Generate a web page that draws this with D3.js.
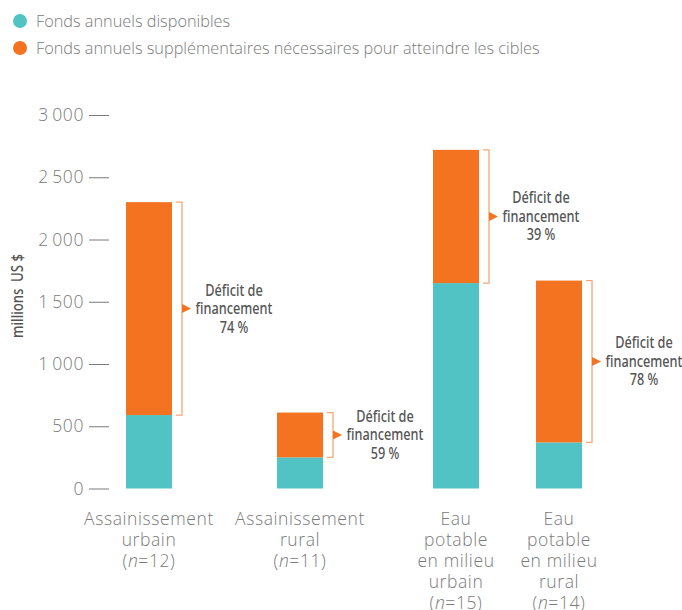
<!DOCTYPE html>
<html>
<head>
<meta charset="utf-8">
<script src="https://cdn.jsdelivr.net/npm/d3@7"></script>
<style>
  body { margin: 0; background: #fff; }
  svg { display: block; }
</style>
</head>
<body>
<svg id="chart" width="682" height="610"></svg>
<script>
// Data: annual funding per sector (millions US $)
const categories = ["Assainissement urbain", "Assainissement rural", "Eau potable en milieu urbain", "Eau potable en milieu rural"];
const labelLines = [
  ["Assainissement", "urbain"],
  ["Assainissement", "rural"],
  ["Eau", "potable", "en milieu", "urbain"],
  ["Eau", "potable", "en milieu", "rural"]
];
const sampleSizes = [12, 11, 15, 14];
const available = [590, 250, 1650, 370];
const additional = [1710, 360, 1070, 1300];
const gapPct = [74, 59, 39, 78];
const yTicks = [0, 500, 1000, 1500, 2000, 2500, 3000];
const seriesNames = ["Fonds annuels disponibles", "Fonds annuels supplémentaires nécessaires pour atteindre les cibles"];

const colors = { available: "#51c3c5", additional: "#f37321", bracket: "#f5a878", text: "#555", axis: "#7a7a7a" };
const lightFont = "'Open Sans', 'Noto Sans', sans-serif";
const condFont = "'Noto Sans', 'Open Sans', sans-serif";

const svg = d3.select("#chart");

// Scales
const y = d3.scaleLinear().domain([0, 3000]).range([488.5, 115]);
const x = d3.scaleOrdinal().domain(categories).range([149, 300, 456, 559]);
const barW = 46;

// Legend
const legend = svg.append("g");
seriesNames.forEach((name, i) => {
  const g = legend.append("g").attr("transform", `translate(0,${21 + i * 27})`);
  g.append("circle").attr("cx", 20).attr("cy", 0).attr("r", 7)
    .attr("fill", i === 0 ? colors.available : colors.additional);
  g.append("text").attr("x", 36).attr("y", 0).attr("dy", "0.35em")
    .attr("font-family", lightFont).attr("font-weight", 300).attr("font-size", 16.3)
    .attr("fill", colors.axis).text(name);
});

// Y axis
const yAxis = d3.axisLeft(y).tickValues(yTicks).tickSize(0).tickPadding(0)
  .tickFormat(d => d3.format(",")(d).replace(/,/g, "\u2009"));
const ag = svg.append("g").attr("transform", "translate(86,0)").call(yAxis);
ag.select(".domain").remove();
ag.selectAll(".tick text").attr("x", -2).attr("font-family", lightFont).attr("font-weight", 300)
  .attr("font-size", 17.5).attr("letter-spacing", 0.6).attr("fill", colors.axis);
ag.selectAll(".tick").append("line").attr("x1", 3).attr("x2", 23).attr("y1", 0).attr("y2", 0)
  .attr("stroke", colors.axis).attr("stroke-width", 1);

svg.append("text").attr("transform", `translate(23,296) rotate(-90) scale(0.85,1)`)
  .attr("text-anchor", "middle").attr("font-family", condFont).attr("font-size", 15.5)
  .attr("font-weight", 500).attr("fill", colors.text).text("millions\u2002US $");

// Bars
const bars = svg.append("g");
categories.forEach((c, i) => {
  const cx = x(c);
  const total = available[i] + additional[i];
  bars.append("rect").attr("x", cx - barW / 2).attr("width", barW)
    .attr("y", y(available[i])).attr("height", y(0) - y(available[i])).attr("fill", colors.available);
  bars.append("rect").attr("x", cx - barW / 2).attr("width", barW)
    .attr("y", y(total)).attr("height", y(available[i]) - y(total)).attr("fill", colors.additional);

  // Funding gap bracket
  const bx = cx + barW / 2 + 10;
  const yTop = y(total), yBot = y(available[i]);
  svg.append("path")
    .attr("d", `M${bx - 6},${yTop}H${bx}V${yBot}H${bx - 6}`)
    .attr("fill", "none").attr("stroke", colors.bracket).attr("stroke-width", 1.3);
  const ym = (yTop + yBot) / 2;
  svg.append("path").attr("d", `M${bx},${ym - 4.5}L${bx + 9},${ym}L${bx},${ym + 4.5}Z`)
    .attr("fill", colors.additional);
  const t = svg.append("text").attr("transform", `translate(${bx + 52},${ym}) scale(0.82,1)`)
    .attr("text-anchor", "middle").attr("font-family", condFont)
    .attr("font-size", 15.5).attr("font-weight", 500).attr("fill", colors.text);
  ["Déficit de", "financement", `${gapPct[i]} %`].forEach((s, k) => {
    t.append("tspan").attr("x", 0).attr("y", (k - 1) * 18.5).attr("dy", "0.35em").text(s);
  });

  // Category label
  const lt = svg.append("text").attr("text-anchor", "middle").attr("font-family", lightFont)
    .attr("font-weight", 300).attr("font-size", 17.5).attr("letter-spacing", 0.6).attr("fill", colors.axis);
  const lines = labelLines[i];
  lines.forEach((s, k) => {
    lt.append("tspan").attr("x", cx).attr("y", 525 + k * 21).text(s);
  });
  const nt = lt.append("tspan").attr("x", cx).attr("y", 525 + lines.length * 21);
  nt.append("tspan").text("(");
  nt.append("tspan").attr("font-style", "italic").text("n");
  nt.append("tspan").text(`=${sampleSizes[i]})`);
});
</script>
</body>
</html>
